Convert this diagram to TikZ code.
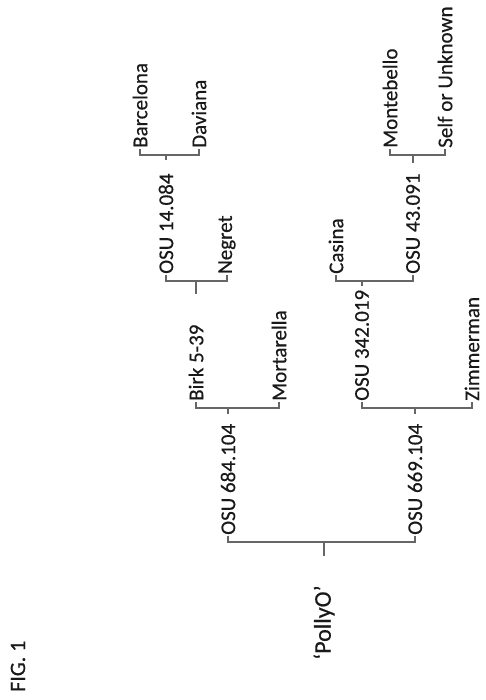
\documentclass[tikz,border=0pt]{standalone}
\usepackage{fontspec}
\setmainfont{Carlito}[FakeBold=0.5]
\begin{document}
\begin{tikzpicture}[x=1pt,y=1pt,
        lbl/.style={rotate=90, anchor=west, inner sep=1pt, text=black!90,
            font=\fontsize{21}{24}\selectfont},
        brk/.style={line width=1.1pt, draw=black!60}]
    \useasboundingbox (0,0) rectangle (485,700);

        \node[lbl, font=\fontsize{22}{26}\selectfont] (fig) at (18,7) {FIG. 1};
        \node[lbl, font=\fontsize{24}{28}\selectfont] (polly) at (324,39) {‘PollyO’};

        \node[lbl] (osuA) at (228,164) {OSU 684.104};
        \node[lbl] (osuB) at (415,164) {OSU 669.104};

        \node[lbl] (birk) at (196,298) {Birk 5-39};
        \node[lbl] (mort) at (279,298) {Mortarella};
        \node[lbl] (osuC) at (362,298) {OSU 342.019};
        \node[lbl] (zimm) at (472,298) {Zimmerman};

        \node[lbl] (osuD) at (166,425) {OSU 14.084};
        \node[lbl] (negr) at (227,425) {Negret};
        \node[lbl] (casi) at (336,425) {Casina};
        \node[lbl] (osuE) at (413,425) {OSU 43.091};

        \node[lbl] (barc) at (140,551) {Barcelona};
        \node[lbl] (davi) at (199,551) {Daviana};
        \node[lbl] (mont) at (390,551) {Montebello};
        \node[lbl] (self) at (445,551) {Self or Unknown};

        % brackets and stems
        \draw[brk] (osuA.west) -- ++(0,-6) coordinate (b1) -| (osuB.west);
        \draw[brk] (b1 -| polly) -- ++(0,-14);

        \draw[brk] (birk.west) -- ++(0,-6) coordinate (b2) -| (mort.west);
        \draw[brk] (b2 -| osuA) -- ++(0,-6);
        \draw[brk] (osuC.west) -- ++(0,-6) coordinate (b3) -| (zimm.west);
        \draw[brk] (b3 -| osuB) -- ++(0,-6);

        \draw[brk] (osuD.west) -- ++(0,-6) coordinate (b4) -| (negr.west);
        \draw[brk] (b4 -| birk) -- ++(0,-13);
        \draw[brk] (casi.west) -- ++(0,-6) coordinate (b5) -| (osuE.west);
        \draw[brk] (b5 -| osuC) -- ++(0,-5);

        \draw[brk] (barc.west) -- ++(0,-6) coordinate (b6) -| (davi.west);
        \draw[brk] (b6 -| osuD) -- ++(0,-5);
        \draw[brk] (mont.west) -- ++(0,-6) coordinate (b7) -| (self.west);
        \draw[brk] (b7 -| osuE) -- ++(0,-8);
    \end{tikzpicture}
\end{document}
